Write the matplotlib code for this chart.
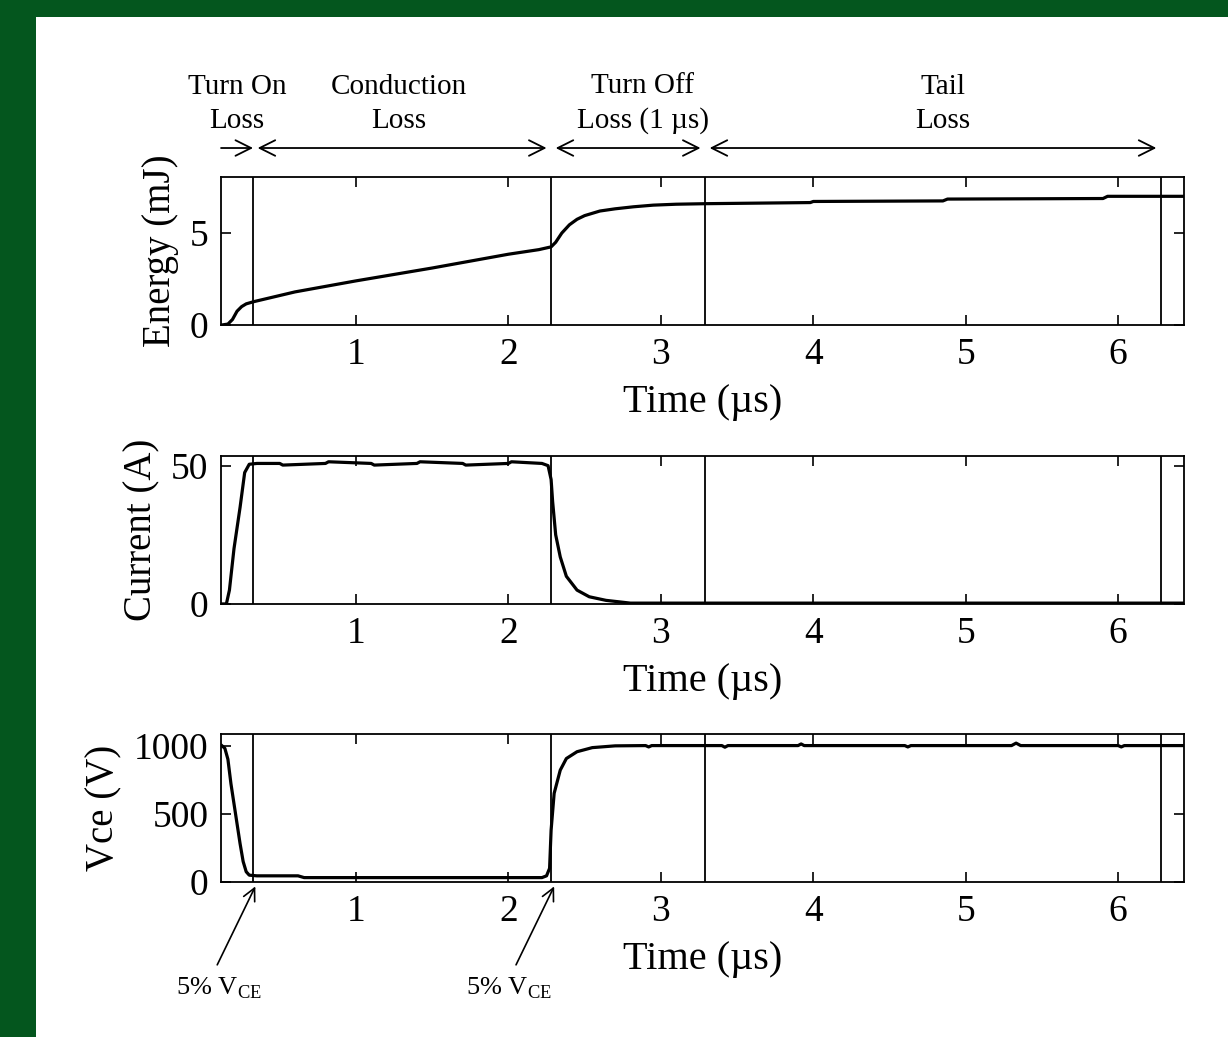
import matplotlib
matplotlib.use("Agg")
import matplotlib.pyplot as plt
from matplotlib.patches import Rectangle

plt.rcParams['font.family'] = ['Liberation Serif', 'DejaVu Serif']
plt.rcParams['mathtext.fontset'] = 'custom'
plt.rcParams['mathtext.rm'] = 'Liberation Serif'

# energy (mJ)
energy_t = [0.12, 0.16, 0.19, 0.22, 0.25, 0.28, 0.33, 0.6, 1.0, 1.5, 2.0, 2.2, 2.28, 2.31, 2.35,
            2.40, 2.45, 2.50, 2.60, 2.70, 2.82, 2.95, 3.1, 3.3, 3.98, 4.0, 4.85, 4.88, 5.9, 5.93, 6.43]
energy = [0.0, 0.05, 0.3, 0.75, 1.0, 1.15, 1.27, 1.8, 2.4, 3.1, 3.85, 4.1, 4.25, 4.5, 5.0,
          5.45, 5.75, 5.95, 6.2, 6.32, 6.43, 6.52, 6.57, 6.6, 6.66, 6.72, 6.75, 6.85, 6.88, 7.0, 7.0]

# current (A)
current_t = [0.12, 0.15, 0.17, 0.20, 0.24, 0.27, 0.30, 0.35, 0.5, 0.52, 0.8, 0.82, 1.1, 1.12,
             1.4, 1.42, 1.7, 1.72, 2.0, 2.02, 2.22,
             2.26, 2.28, 2.29, 2.31, 2.34, 2.38, 2.45, 2.53, 2.64, 2.8, 6.43]
current = [0.0, 0.0, 5, 20, 35, 47.5, 50.5, 50.8, 50.8, 50.2, 50.8, 51.4, 50.8, 50.2,
           50.8, 51.4, 50.8, 50.2, 50.8, 51.4, 50.8,
           50, 45, 37, 25, 17, 10, 5, 2.6, 1.3, 0.3, 0.3]

# collector-emitter voltage (V)
vce_t = [0.12, 0.14, 0.16, 0.18, 0.21, 0.24, 0.26, 0.28, 0.30, 0.35, 0.62, 0.66, 2.22, 2.25,
         2.27, 2.28, 2.30, 2.34, 2.38, 2.45, 2.55, 2.7, 2.9, 2.92, 2.94, 3.4, 3.42, 3.44,
         3.9, 3.92, 3.94, 4.6, 4.62, 4.64, 5.3, 5.33, 5.36, 6.0, 6.02, 6.04, 6.43]
vce = [1000, 980, 900, 720, 500, 280, 150, 75, 50, 45, 45, 32, 32, 45,
       100, 380, 650, 820, 905, 955, 985, 998, 1000, 990, 1000, 1000, 988, 1000,
       1000, 1012, 1000, 1000, 990, 1000, 1000, 1018, 1000, 1000, 990, 1000, 1000]

markers_t = [0.325, 2.28, 3.29, 6.28]
xlim = (0.115, 6.43)

fig = plt.figure(figsize=(12.28, 10.37), dpi=100)
fig.patch.set_facecolor('#04561e')
fig.patches.append(Rectangle((36 / 1228, 0), 1, 1 - 17 / 1037, transform=fig.transFigure,
                             facecolor='white', edgecolor='none', zorder=-10))

ax1 = fig.add_axes([0.180, 0.6866, 0.784, 0.1427])
ax2 = fig.add_axes([0.180, 0.4176, 0.784, 0.1427])
ax3 = fig.add_axes([0.180, 0.1495, 0.784, 0.1427])

ax1.plot(energy_t, energy, color='black', lw=2.3)
ax2.plot(current_t, current, color='black', lw=2.3)
ax3.plot(vce_t, vce, color='black', lw=2.3)

ax1.set_ylim(0, 8.05)
ax1.set_yticks([0, 5])
ax1.set_ylabel('Energy (mJ)', fontsize=28, labelpad=8)
ax2.set_ylim(0, 53.5)
ax2.set_yticks([0, 50])
ax2.set_ylabel('Current (A)', fontsize=28, labelpad=8)
ax3.set_ylim(0, 1085)
ax3.set_yticks([0, 500, 1000])
ax3.set_ylabel('Vce (V)', fontsize=28, labelpad=8)

for ax in [ax1, ax2, ax3]:
    ax.set_zorder(5)
    ax.set_xlim(*xlim)
    ax.set_xticks([1, 2, 3, 4, 5, 6])
    ax.set_xlabel('Time (\u00b5s)', fontsize=29, labelpad=9)
    for t in markers_t:
        ax.axvline(t, color='black', lw=1.3)
    ax.tick_params(direction='in', top=True, right=True, length=7, width=1.2,
                   labelsize=27, pad=9)
    for s in ax.spines.values():
        s.set_linewidth(1.3)

# loss regions above the energy panel
y_arr = 1.196
ax1.annotate('', xy=(markers_t[0], y_arr), xytext=(xlim[0], y_arr),
             xycoords=('data', 'axes fraction'), annotation_clip=False,
             arrowprops=dict(arrowstyle='->', lw=1.3, mutation_scale=28, shrinkA=0, shrinkB=0))
for a, b in [(markers_t[0], markers_t[1]), (markers_t[1], markers_t[2]), (markers_t[2], markers_t[3])]:
    ax1.annotate('', xy=(b - 0.03, y_arr), xytext=(a + 0.03, y_arr),
                 xycoords=('data', 'axes fraction'), annotation_clip=False,
                 arrowprops=dict(arrowstyle='<->', lw=1.3, mutation_scale=28, shrinkA=0, shrinkB=0))

region_labels = ['Turn On\nLoss', 'Conduction\nLoss', 'Turn Off\nLoss (1 \u00b5s)', 'Tail\nLoss']
region_x = [0.22, 1.28, 2.88, 4.85]
for lab, x in zip(region_labels, region_x):
    ax1.text(x, 1.29, lab, transform=ax1.get_xaxis_transform(), ha='center', va='bottom',
             fontsize=21, linespacing=1.4)

# 5% Vce markers
for tip, txt_x in [(0.34, 0.10), (2.30, 2.00)]:
    ax3.annotate('', xy=(tip, -0.03), xytext=(tip - 0.25, -0.56),
                 xycoords=('data', 'axes fraction'), annotation_clip=False,
                 arrowprops=dict(arrowstyle='->', lw=1.2, mutation_scale=22, shrinkA=0, shrinkB=0))
    ax3.text(txt_x, -0.72, r'5% V$_{\mathrm{CE}}$', transform=ax3.get_xaxis_transform(),
             ha='center', va='center', fontsize=19)

fig.savefig('out.png', dpi=100, facecolor=fig.get_facecolor())
